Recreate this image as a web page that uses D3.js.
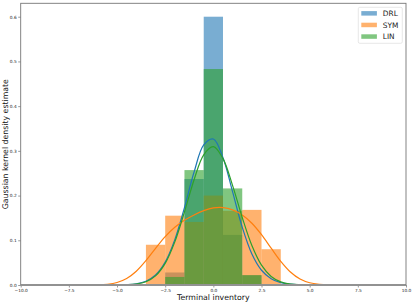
<!DOCTYPE html>
<html>
<head>
<meta charset="utf-8">
<script src="https://cdn.jsdelivr.net/npm/d3@7"></script>
<style>
  html, body { margin: 0; padding: 0; background: #fff; }
  svg { display: block; font-family: "DejaVu Sans", sans-serif; }
</style>
</head>
<body>
<div id="chart"></div>
<script>
// histogram bins (unit width, centred on integers)
const binEdges = [-3.5, -2.5, -1.5, -0.5, 0.5, 1.5, 2.5, 3.5];
const drlHist = [0, 0.028, 0.237, 0.6, 0.112, 0.022, 0];
const symHist = [0.09, 0.155, 0.141, 0.2, 0.166, 0.168, 0.08];
const linHist = [0, 0.018, 0.257, 0.483, 0.216, 0.022, 0];

// kernel density curves
const drlKdeX = [-5, -4.5, -4, -3.5, -3, -2.5, -2, -1.5, -1, -0.5, 0, 0.5, 1, 1.5, 2, 2.5, 3, 3.5, 4, 4.5, 5];
const drlKde = [0.0002, 0.0007, 0.0026, 0.0083, 0.0223, 0.0512, 0.1014, 0.173, 0.2526, 0.3132, 0.3265, 0.2847, 0.2081, 0.1291, 0.0693, 0.033, 0.0141, 0.0053, 0.0018, 0.0005, 0.0001];
const linKdeX = drlKdeX;
const linKde = [0.0001, 0.0006, 0.0022, 0.0073, 0.0204, 0.0483, 0.0964, 0.1632, 0.2355, 0.2912, 0.3093, 0.2826, 0.2223, 0.1509, 0.0883, 0.0444, 0.0192, 0.0071, 0.0022, 0.0006, 0.0001];
const symKdeX = [-6, -5.5, -5, -4.5, -4, -3.5, -3, -2.5, -2, -1.5, -1, -0.5, 0, 0.5, 1, 1.5, 2, 2.5, 3, 3.5, 4, 4.5, 5, 5.5, 6];
const symKde = [0.0004, 0.0017, 0.0056, 0.0145, 0.0308, 0.0544, 0.0819, 0.1082, 0.1293, 0.1448, 0.1567, 0.1662, 0.1723, 0.1731, 0.1679, 0.1565, 0.138, 0.1125, 0.0824, 0.053, 0.0292, 0.0135, 0.0051, 0.0016, 0.0004];

const seriesNames = ["DRL", "SYM", "LIN"];
const xTicks = [-10, -7.5, -5, -2.5, 0, 2.5, 5, 7.5, 10];
const yTicks = [0, 0.1, 0.2, 0.3, 0.4, 0.5, 0.6];

const colors = ["#1f77b4", "#ff7f0e", "#2ca02c"];
const W = 415, H = 303;
const margin = { top: 3.3, right: 9, bottom: 18, left: 20.7 };

const svg = d3.select("#chart").append("svg")
  .attr("width", W).attr("height", H);

const x = d3.scaleLinear().domain([-10, 10]).range([margin.left, W - margin.right]);
const y = d3.scaleLinear().domain([0, 0.63]).range([H - margin.bottom, margin.top]);

// histograms first (patches sit under lines in matplotlib)
const hists = [drlHist, symHist, linHist];
hists.forEach((vals, i) => {
  svg.append("g")
    .selectAll("rect")
    .data(vals.map((v, j) => ({ x0: binEdges[j], x1: binEdges[j + 1], v })).filter(d => d.v > 0))
    .join("rect")
    .attr("x", d => x(d.x0))
    .attr("width", d => x(d.x1) - x(d.x0))
    .attr("y", d => y(d.v))
    .attr("height", d => y(0) - y(d.v))
    .attr("fill", colors[i])
    .attr("fill-opacity", 0.6);
});

// kde lines
const kdes = [[drlKdeX, drlKde], [symKdeX, symKde], [linKdeX, linKde]];
const line = d3.line()
  .x(d => x(d[0]))
  .y(d => y(d[1]))
  .curve(d3.curveCatmullRom);

kdes.forEach(([xs, ys], i) => {
  svg.append("path")
    .datum(xs.map((v, j) => [v, ys[j]]))
    .attr("fill", "none")
    .attr("stroke", colors[i])
    .attr("stroke-width", 1.2)
    .attr("d", line);
});

// axes
const fmt = d => d3.format(".1f")(d).replace("-", "\u2212");
const xAxis = svg.append("g")
  .attr("transform", `translate(0,${y(0)})`)
  .call(d3.axisBottom(x).tickValues(xTicks).tickFormat(fmt).tickSize(2.5).tickPadding(1.5));
const yAxis = svg.append("g")
  .attr("transform", `translate(${x(-10)},0)`)
  .call(d3.axisLeft(y).tickValues(yTicks).tickFormat(d3.format(".1f")).tickSize(2.5).tickPadding(1.5));

[xAxis, yAxis].forEach(a => {
  a.select(".domain").remove();
  a.selectAll(".tick line").attr("stroke", "#555").attr("stroke-width", 0.6);
  a.selectAll(".tick text").attr("font-size", "4.3px").attr("fill", "#222")
    .attr("font-family", "DejaVu Sans");
});

// spines
svg.append("line")
  .attr("x1", x(-10)).attr("x2", x(10)).attr("y1", y(0)).attr("y2", y(0))
  .attr("stroke", "#aaa").attr("stroke-width", 2);
svg.append("rect")
  .attr("x", x(-10)).attr("y", y(0.63))
  .attr("width", x(10) - x(-10)).attr("height", y(0) - y(0.63))
  .attr("fill", "none").attr("stroke", "#777").attr("stroke-width", 0.9);

// axis labels
svg.append("text")
  .attr("x", (x(-10) + x(10)) / 2).attr("y", 300)
  .attr("text-anchor", "middle").attr("font-size", "7.8px").attr("fill", "#111")
  .text("Terminal inventory");
svg.append("text")
  .attr("transform", `translate(8,${(y(0) + y(0.63)) / 2}) rotate(-90)`)
  .attr("text-anchor", "middle").attr("font-size", "7.8px").attr("fill", "#111")
  .text("Gaussian kernel density estimate");

// legend
const legend = svg.append("g").attr("transform", "translate(358.3,7.3)");
legend.append("rect")
  .attr("width", 44).attr("height", 36).attr("rx", 1.5)
  .attr("fill", "#fff").attr("fill-opacity", 0.8)
  .attr("stroke", "#ddd").attr("stroke-width", 0.7);
seriesNames.forEach((name, i) => {
  const row = legend.append("g").attr("transform", `translate(0,${6 + i * 11.6})`);
  row.append("rect")
    .attr("x", 3).attr("y", -2.2).attr("width", 15.6).attr("height", 4.5)
    .attr("fill", colors[i]).attr("fill-opacity", 0.6);
  row.append("text")
    .attr("x", 24.5).attr("y", 2.6)
    .attr("font-size", "7.4px").attr("fill", "#222")
    .text(name);
});
</script>
</body>
</html>
